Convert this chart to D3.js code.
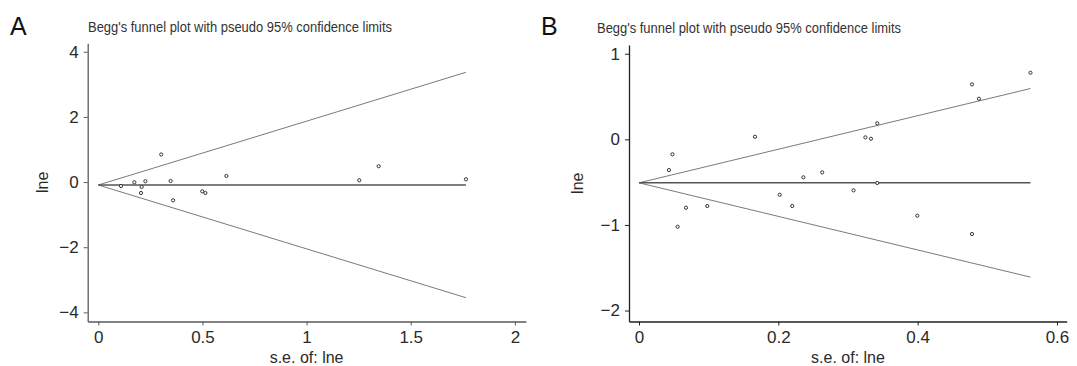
<!DOCTYPE html>
<html>
<head>
<meta charset="utf-8">
<script src="https://cdn.jsdelivr.net/npm/d3@7"></script>
<style>
  html, body { margin: 0; padding: 0; background: #fff; }
  svg { display: block; }
  text { font-family: "Liberation Sans", Arial, sans-serif; fill: #2a2a2a; }
</style>
</head>
<body>
<svg id="chart" width="1077" height="366"></svg>
<script>
// ---------- data ----------
const panelLabels = ["A", "B"];
const titleText = "Begg's funnel plot with pseudo 95% confidence limits";
const xTitle = "s.e. of: lne";
const yTitle = "lne";

// Panel A
const seA = [0.109, 0.173, 0.208, 0.205, 0.226, 0.302, 0.347, 0.359, 0.499, 0.514, 0.615, 1.253, 1.346, 1.765];
const lneA = [-0.12, -0.006, -0.15, -0.335, 0.025, 0.846, 0.034, -0.56, -0.283, -0.335, 0.188, 0.055, 0.486, 0.086];
const pooledA = -0.09;
const xTicksA = [0, 0.5, 1, 1.5, 2];
const xTickLabelsA = ["0", "0.5", "1", "1.5", "2"];
const yTicksA = [4, 2, 0, -2, -4];
const yTickLabelsA = ["4", "2", "0", "\u22122", "\u22124"];

// Panel B
const seB = [0.562, 0.478, 0.488, 0.342, 0.1665, 0.325, 0.333, 0.048, 0.043, 0.263, 0.236, 0.342, 0.308, 0.202, 0.220, 0.098, 0.0675, 0.0555, 0.3995, 0.478];
const lneB = [0.778, 0.642, 0.474, 0.187, 0.03, 0.023, 0.007, -0.175, -0.359, -0.386, -0.444, -0.51, -0.596, -0.647, -0.779, -0.779, -0.799, -1.021, -0.892, -1.106];
const pooledB = -0.508;
const xTicksB = [0, 0.2, 0.4, 0.6];
const xTickLabelsB = ["0", "0.2", "0.4", "0.6"];
const yTicksB = [1, 0, -1, -2];
const yTickLabelsB = ["1", "0", "\u22121", "\u22122"];

// ---------- layout ----------
const panels = [
  {
    label: panelLabels[0], labelX: 10, labelY: 35,
    titleX: 88, titleY: 32,
    se: seA, lne: lneA, pooled: pooledA,
    xDomain: [-0.051, 2.053], xRange: [87.7, 525.9],
    yDomain: [-4.28, 4.26], yRange: [321.5, 43.3],
    xTicks: xTicksA, xLabels: xTickLabelsA,
    yTicks: yTicksA, yLabels: yTickLabelsA,
    yTitleX: 42, axisColor: "#5a5a5a"
  },
  {
    label: panelLabels[1], labelX: 541, labelY: 35,
    titleX: 597, titleY: 33,
    se: seB, lne: lneB, pooled: pooledB,
    xDomain: [-0.01435, 0.614], xRange: [629, 1066.7],
    yDomain: [-2.128, 1.102], yRange: [321.5, 45],
    xTicks: xTicksB, xLabels: xTickLabelsB,
    yTicks: yTicksB, yLabels: yTickLabelsB,
    yTitleX: 577, axisColor: "#222"
  }
];

const svg = d3.select("#chart");

panels.forEach(p => {
  const g = svg.append("g");
  const x = d3.scaleLinear().domain(p.xDomain).range(p.xRange);
  const y = d3.scaleLinear().domain(p.yDomain).range(p.yRange);

  // panel letter
  g.append("text")
    .attr("x", p.labelX).attr("y", p.labelY)
    .style("font-size", "25px")
    .style("fill", "#111")
    .text(p.label);

  // title
  g.append("text")
    .attr("x", p.titleX).attr("y", p.titleY)
    .style("font-size", "14.5px")
    .style("font-family", "'Liberation Sans Narrow', 'Liberation Sans', Arial, sans-serif")
    .attr("textLength", 304)
    .attr("lengthAdjust", "spacingAndGlyphs")
    .style("fill", "#333")
    .text(titleText);

  // axes
  const xAxis = d3.axisBottom(x)
    .tickValues(p.xTicks)
    .tickFormat((d, i) => p.xLabels[i])
    .tickSize(4).tickSizeOuter(0).tickPadding(5.5);
  const yAxis = d3.axisLeft(y)
    .tickValues(p.yTicks)
    .tickFormat((d, i) => p.yLabels[i])
    .tickSize(4).tickSizeOuter(0).tickPadding(5);

  const gx = g.append("g")
    .attr("transform", `translate(0,${p.yRange[0]})`)
    .call(xAxis);
  const gy = g.append("g")
    .attr("transform", `translate(${p.xRange[0]},0)`)
    .call(yAxis);

  [gx, gy].forEach(a => {
    a.select(".domain").attr("stroke", p.axisColor).attr("stroke-width", 1.3);
    a.selectAll(".tick line").attr("stroke", p.axisColor).attr("stroke-width", 1);
    a.selectAll(".tick text")
      .style("font-size", "17px")
      .style("font-family", "'Liberation Sans', Arial, sans-serif")
      .attr("fill", "#2a2a2a");
  });

  // axis titles
  const x0 = x(0), x1 = x(p.xTicks[p.xTicks.length - 1]);
  g.append("text")
    .attr("x", (x0 + x1) / 2).attr("y", 363)
    .attr("text-anchor", "middle")
    .style("font-size", "16px")
    .text(xTitle);
  g.append("text")
    .attr("transform", `translate(${p.yTitleX},${(p.yRange[0] + p.yRange[1]) / 2}) rotate(-90)`)
    .attr("text-anchor", "middle")
    .attr("dy", "0.35em")
    .style("font-size", "16px")
    .text(yTitle);

  // funnel lines
  const seMax = d3.max(p.se);
  const funnel = [
    [[0, p.pooled], [seMax, p.pooled + 1.96 * seMax]],
    [[0, p.pooled], [seMax, p.pooled - 1.96 * seMax]]
  ];
  const line = d3.line().x(d => x(d[0])).y(d => y(d[1]));
  funnel.forEach(f => {
    g.append("path")
      .attr("d", line(f))
      .attr("fill", "none")
      .attr("stroke", "#7a7a7a")
      .attr("stroke-width", 1);
  });
  g.append("path")
    .attr("d", line([[0, p.pooled], [seMax, p.pooled]]))
    .attr("fill", "none")
    .attr("stroke", "#555")
    .attr("stroke-width", 1.6);

  // points
  g.append("g").selectAll("circle")
    .data(p.se.map((s, i) => ({ s, v: p.lne[i] })))
    .join("circle")
    .attr("cx", d => x(d.s))
    .attr("cy", d => y(d.v))
    .attr("r", 1.6)
    .attr("fill", "#fff")
    .attr("stroke", "#333")
    .attr("stroke-width", 1);
});
</script>
</body>
</html>
